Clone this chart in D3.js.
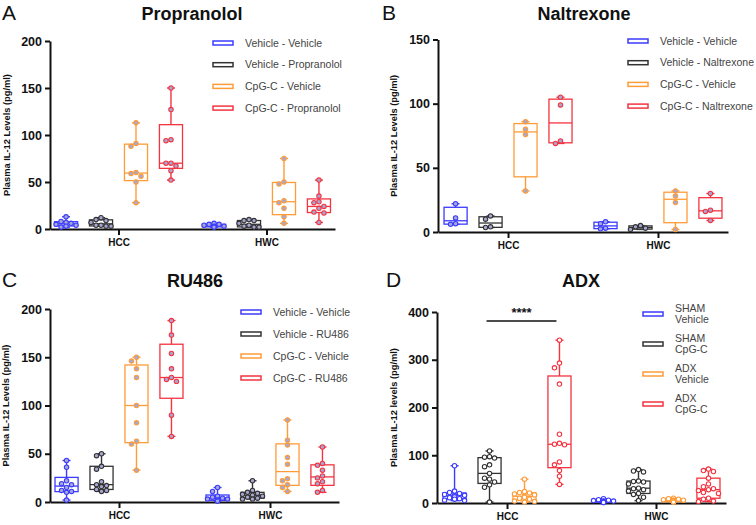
<!DOCTYPE html>
<html lang="en">
<head>
<meta charset="utf-8">
<title>IL-12</title>
<style>
	body { margin: 0; background: #fff; }
	svg { display: block; font-family: "Liberation Sans", Arial, sans-serif; }
</style>
</head>
<body>
<script src="https://cdn.jsdelivr.net/npm/d3@7"></script>
<script>

	const groups = ["HCC", "HWC"];
	const seriesColors = ["#3b3bff", "#333333", "#ff9c38", "#f43440"];

	// A - Propranolol
	const propLegend = ["Vehicle - Vehicle", "Vehicle - Propranolol", "CpG-C - Vehicle", "CpG-C - Propranolol"];
	const propHCC = [[13, 8, 7, 6, 5, 4, 3, 2], [12, 10, 9, 7, 4, 4, 3, 3], [113, 91, 88, 60, 59, 56, 50, 28], [150, 127, 95, 94, 70, 70, 67, 62, 52]];
	const propHWC = [[6, 5, 5, 4, 3, 3, 2, 2], [10, 9, 9, 6, 4, 3, 2, 2], [75, 50, 48, 30, 28, 22, 13, 6], [52, 35, 29, 28, 24, 22, 18, 17, 7]];

	// B - Naltrexone
	const naltLegend = ["Vehicle - Vehicle", "Vehicle - Naltrexone", "CpG-C - Vehicle", "CpG-C - Naltrexone"];
	const naltHCC = [[22, 11, 6.5, 6], [12.5, 10, 4, 3.5], [86, 80, 76, 32], [105, 99, 71, 69]];
	const naltHWC = [[8, 6.5, 3, 2.5], [5, 4, 3, 2], [32, 28, 23, 2], [30, 17, 16, 9]];

	// C - RU486
	const ruLegend = ["Vehicle - Vehicle", "Vehicle - RU486", "CpG-C - Vehicle", "CpG-C - RU486"];
	const ruHCC = [[43, 36, 22, 19, 18, 15, 12, 11, 10, 2], [50, 48, 37, 34, 21, 18, 17, 16, 13, 12, 11], [150, 146, 138, 129, 100, 82, 63, 60, 33], [188, 173, 154, 138, 129, 127, 125, 90, 68]];
	const ruHWC = [[15, 11, 6, 5, 4, 3, 3, 2, 1, 1], [22, 12, 10, 9, 8, 7, 6, 5, 4, 3, 3], [85, 64, 59, 46, 39, 24, 22, 18, 15, 11], [57, 40, 38, 33, 27, 25, 21, 19, 12, 10]];

	// D - ADX
	const adxLegend = [["SHAM", "Vehicle"], ["SHAM", "CpG-C"], ["ADX", "Vehicle"], ["ADX", "CpG-C"]];
	const adxHCC = [[78, 25, 22, 20, 18, 16, 15, 13, 11, 9, 8, 6, 5], [109, 97, 96, 94, 80, 76, 62, 52, 50, 44, 38, 33, 2], [50, 24, 22, 21, 19, 17, 14, 12, 10, 8, 4, 3, 2], [341, 293, 283, 249, 144, 125, 123, 122, 86, 80, 68, 56, 39]];
	const adxHWC = [[9, 7, 6, 5, 4, 4, 3, 3, 2, 2, 2, 1, 1], [70, 67, 65, 46, 45, 44, 40, 31, 30, 28, 25, 20, 18, 12, 5], [10, 9, 8, 7, 6, 6, 5, 5, 4, 3, 3, 2, 2], [71, 68, 66, 52, 40, 34, 30, 28, 26, 22, 20, 10, 8, 4, 3]];

	const svg = d3.select("body").append("svg")
		.attr("width", 756)
		.attr("height", 525);

	// graphpad style percentile, (n+1)p
	function quant(sorted, p) {
		const n = sorted.length;
		const pos = (n + 1) * p;
		const lo = Math.floor(pos);
		if (lo < 1) return sorted[0];
		if (lo >= n) return sorted[n - 1];
		return sorted[lo - 1] + (pos - lo) * (sorted[lo] - sorted[lo - 1]);
	}

	// simple dodge so the dots don't sit on top of each other
	function dodge(ys, r, maxOff) {
		const placed = [];
		return ys.map((y) => {
			let best = 0;
			for (let k = 0; k < 12; k++) {
				const off = (k % 2 ? -1 : 1) * Math.ceil(k / 2) * (r * 2 + 0.6);
				if (Math.abs(off) > maxOff) continue;
				const hit = placed.some((p) => Math.hypot(p[0] - off, p[1] - y) < r * 2 + 0.4);
				if (!hit) { best = off; break; }
			}
			placed.push([best, y]);
			return best;
		});
	}

	function drawPanel(p) {
		const g = svg.append("g");

		const y = d3.scaleLinear().domain([0, p.max]).range([p.bottom, p.top]);
		const x = d3.scalePoint().domain(groups).range([p.left, p.right]).padding(p.pad);
		const sub = d3.scaleBand().domain([0, 1, 2, 3]).range([-64, 64]).paddingInner(0.34);
		const bw = sub.bandwidth();

		// letter + title
		g.append("text").attr("x", p.letterX).attr("y", p.titleY)
			.attr("font-size", 21).attr("fill", "#111").text(p.letter);
		g.append("text").attr("x", p.titleX).attr("y", p.titleY)
			.attr("text-anchor", "middle").attr("font-size", 18).attr("font-weight", "bold")
			.attr("fill", "#111").text(p.title);

		// axes
		const yAxis = g.append("g")
			.attr("transform", `translate(${p.left},0)`)
			.call(d3.axisLeft(y).tickValues(p.ticks).tickSize(5).tickSizeOuter(0).tickPadding(3));
		yAxis.select(".domain").attr("stroke", "#111").attr("stroke-width", 2);
		yAxis.selectAll(".tick line").attr("stroke", "#111").attr("stroke-width", 2);
		yAxis.selectAll(".tick text").attr("font-size", 12.5).attr("font-weight", "bold")
			.attr("fill", "#111").attr("font-family", "Liberation Sans, Arial, sans-serif");

		const xAxis = g.append("g")
			.attr("transform", `translate(0,${p.bottom})`)
			.call(d3.axisBottom(x).tickSize(6).tickSizeOuter(0).tickPadding(4));
		xAxis.select(".domain").attr("stroke", "#111").attr("stroke-width", 2);
		xAxis.selectAll(".tick line").attr("stroke", "#111").attr("stroke-width", 2);
		xAxis.selectAll(".tick text").attr("font-size", 10).attr("font-weight", "bold")
			.attr("fill", "#111").attr("font-family", "Liberation Sans, Arial, sans-serif");

		g.append("text")
			.attr("transform", `translate(${p.labelX},${(p.top + p.bottom) / 2}) rotate(-90)`)
			.attr("text-anchor", "middle").attr("dy", "0.35em")
			.attr("font-size", 9.3).attr("font-weight", "bold").attr("fill", "#111")
			.text(p.yLabel);

		// boxes
		const data = [];
		groups.forEach((grp, gi) => {
			p.series[gi].forEach((vals, si) => {
				data.push({ grp, si, vals });
			});
		});

		const box = g.selectAll("g.box").data(data).enter().append("g")
			.attr("class", "box")
			.attr("transform", (d) => `translate(${x(d.grp) + sub(d.si) + bw / 2},0)`);

		box.each(function (d) {
			const s = d.vals.slice().sort(d3.ascending);
			const q1 = quant(s, 0.25), med = quant(s, 0.5), q3 = quant(s, 0.75);
			const lo = s[0], hi = s[s.length - 1];
			const col = seriesColors[d.si];
			const b = d3.select(this);

			b.append("line").attr("y1", y(q3)).attr("y2", y(hi))
				.attr("stroke", col).attr("stroke-width", 1.4);
			b.append("line").attr("y1", y(q1)).attr("y2", y(lo))
				.attr("stroke", col).attr("stroke-width", 1.4);
			b.selectAll("line.cap").data([lo, hi]).enter().append("line")
				.attr("class", "cap")
				.attr("x1", -4).attr("x2", 4)
				.attr("y1", (v) => y(v)).attr("y2", (v) => y(v))
				.attr("stroke", col).attr("stroke-width", 1.4);
			b.append("rect")
				.attr("x", -bw / 2).attr("width", bw)
				.attr("y", y(q3)).attr("height", Math.max(0.5, y(q1) - y(q3)))
				.attr("fill", "none").attr("stroke", col).attr("stroke-width", 1.3);
			b.append("line").attr("x1", -bw / 2).attr("x2", bw / 2)
				.attr("y1", y(med)).attr("y2", y(med))
				.attr("stroke", col).attr("stroke-width", 1.3);

			const r = 2.2;
			const ys = d.vals.map((v) => y(v));
			const offs = dodge(ys, r, bw / 2 + 1);
			b.selectAll("circle").data(d.vals).enter().append("circle")
				.attr("cx", (v, i) => offs[i])
				.attr("cy", (v) => y(v))
				.attr("r", r)
				.attr("fill", p.dotFill)
				.attr("stroke", col)
				.attr("stroke-width", 1.1);
		});

		// legend
		const leg = g.selectAll("g.leg").data(p.legend).enter().append("g")
			.attr("class", "leg")
			.attr("transform", (d, i) => `translate(${p.legX},${p.legY + i * p.legStep})`);
		leg.append("rect")
			.attr("x", 0).attr("y", -2).attr("width", 20).attr("height", 4)
			.attr("fill", "#fff")
			.attr("stroke", (d, i) => seriesColors[i]).attr("stroke-width", 1.5);
		leg.each(function (d) {
			const lines = Array.isArray(d) ? d : [d];
			const t = d3.select(this).append("text")
				.attr("x", 32).attr("font-size", 10.5).attr("fill", "#444");
			lines.forEach((ln, li) => {
				t.append("tspan").attr("x", 32)
					.attr("y", (li - (lines.length - 1) / 2) * 11.5)
					.attr("dy", "0.35em").text(ln);
			});
		});

		return { g, x, y, sub, bw };
	}

	drawPanel({
		letter: "A", letterX: 2, title: "Propranolol", titleX: 192, titleY: 20,
		left: 50, right: 335, bottom: 229, top: 41, max: 200, pad: 0.463,
		ticks: [0, 50, 100, 150, 200], yLabel: "Plasma IL-12 Levels (pg/ml)", labelX: 7,
		series: [propHCC, propHWC], legend: propLegend, dotFill: "#a7a7d3",
		legX: 213, legY: 43, legStep: 21.7
	});

	drawPanel({
		letter: "B", letterX: 382, title: "Naltrexone", titleX: 584, titleY: 20,
		left: 438, right: 728, bottom: 232, top: 39.5, max: 150, pad: 0.467,
		ticks: [0, 50, 100, 150], yLabel: "Plasma IL-12 Levels (pg/ml)", labelX: 394,
		series: [naltHCC, naltHWC], legend: naltLegend, dotFill: "#a7a7d3",
		legX: 628, legY: 41, legStep: 21.7
	});

	drawPanel({
		letter: "C", letterX: 2, title: "RU486", titleX: 195, titleY: 287,
		left: 50, right: 339, bottom: 502, top: 309, max: 200, pad: 0.457,
		ticks: [0, 50, 100, 150, 200], yLabel: "Plasma IL-12 Levels (pg/ml)", labelX: 6,
		series: [ruHCC, ruHWC], legend: ruLegend, dotFill: "#a7a7d3",
		legX: 241, legY: 312, legStep: 22
	});

	const pd = drawPanel({
		letter: "D", letterX: 386, title: "ADX", titleX: 581, titleY: 287,
		left: 437, right: 726, bottom: 503, top: 312, max: 400, pad: 0.47,
		ticks: [0, 100, 200, 300, 400], yLabel: "Plasma IL-12 levels (pg/ml)", labelX: 394,
		series: [adxHCC, adxHWC], legend: adxLegend, dotFill: "#ffffff",
		legX: 643, legY: 314, legStep: 30
	});

	// significance bar, SHAM CpG-C vs ADX CpG-C in HCC
	const x1 = pd.x("HCC") + pd.sub(1) + pd.bw / 2 - 3;
	const x2 = pd.x("HCC") + pd.sub(3) + pd.bw / 2 - 3;
	const yb = pd.y(381);
	pd.g.append("line").attr("x1", x1).attr("x2", x2).attr("y1", yb).attr("y2", yb)
		.attr("stroke", "#111").attr("stroke-width", 1.5);
	pd.g.append("text").attr("x", (x1 + x2) / 2).attr("y", yb - 4)
		.attr("text-anchor", "middle").attr("font-size", 13).attr("font-weight", "bold")
		.attr("fill", "#111").text("****");

</script>
</body>
</html>
